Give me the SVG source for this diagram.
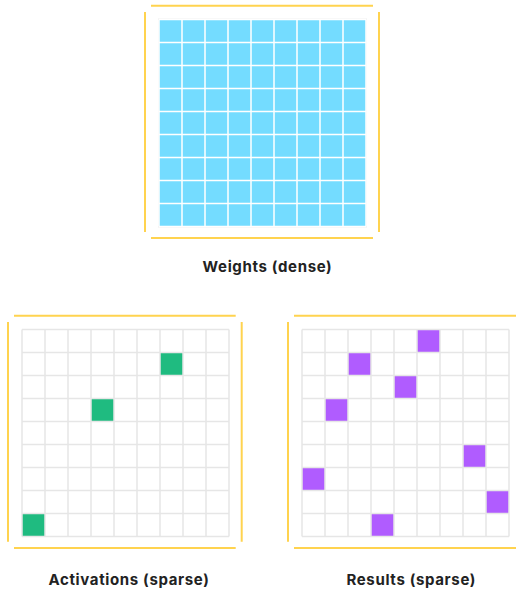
<svg xmlns="http://www.w3.org/2000/svg" width="519" height="593" viewBox="0 0 519 593">
<style>
.frame{stroke:#FFD34F;stroke-width:2;fill:none}
.gridw{stroke:#ffffff;stroke-width:1.5;fill:none}
.gridg{stroke:#e6e6e6;stroke-width:1.5;fill:none}
.lbl{font-family:Inter,"Liberation Sans",sans-serif;font-weight:700;font-size:15px;fill:#222;text-anchor:middle;letter-spacing:0.65px}
.act{fill:#1FBB80}
.res{fill:#B05CFF}
</style>
<rect width="519" height="593" fill="#fff"/>
<g id="weights">
  <path class="frame" d="M151 5.7H373M151 238H373M145 12V232M379 12V232"/>
  <rect x="158.5" y="19" width="208" height="208" fill="none" stroke="#eeeeee" stroke-width="1"/>
  <rect x="159" y="19.5" width="207" height="207" fill="#74DCFF"/>
  <path class="gridw" d="M159 19.5V226.5M182 19.5V226.5M205 19.5V226.5M228 19.5V226.5M251 19.5V226.5M274 19.5V226.5M297 19.5V226.5M320 19.5V226.5M343 19.5V226.5M366 19.5V226.5M159 19.5H366M159 42.5H366M159 65.5H366M159 88.5H366M159 111.5H366M159 134.5H366M159 157.5H366M159 180.5H366M159 203.5H366M159 226.5H366"/>
  <text class="lbl" x="267.5" y="271.7">Weights (dense)</text>
</g>
<g id="activations">
  <path class="frame" d="M14 315.7H235.7M14 548H235.7M8 322V541.7M241.7 322V541.7"/>
  <rect x="22" y="329.5" width="207" height="207" fill="#fff"/>
  <rect class="act" x="160" y="352.5" width="23" height="23"/>
  <rect class="act" x="91" y="398.5" width="23" height="23"/>
  <rect class="act" x="22" y="513.5" width="23" height="23"/>
  <path class="gridg" d="M22 329.5V536.5M45 329.5V536.5M68 329.5V536.5M91 329.5V536.5M114 329.5V536.5M137 329.5V536.5M160 329.5V536.5M183 329.5V536.5M206 329.5V536.5M229 329.5V536.5M22 329.5H229M22 352.5H229M22 375.5H229M22 398.5H229M22 421.5H229M22 444.5H229M22 467.5H229M22 490.5H229M22 513.5H229M22 536.5H229"/>
  <text class="lbl" x="129" y="584.7">Activations (sparse)</text>
</g>
<g id="results">
  <path class="frame" d="M294 315.7H516M294 548H516M288 322V541.7"/>
  <rect x="302" y="329.5" width="207" height="207" fill="#fff"/>
  <rect class="res" x="417" y="329.5" width="23" height="23"/>
  <rect class="res" x="348" y="352.5" width="23" height="23"/>
  <rect class="res" x="394" y="375.5" width="23" height="23"/>
  <rect class="res" x="325" y="398.5" width="23" height="23"/>
  <rect class="res" x="463" y="444.5" width="23" height="23"/>
  <rect class="res" x="302" y="467.5" width="23" height="23"/>
  <rect class="res" x="486" y="490.5" width="23" height="23"/>
  <rect class="res" x="371" y="513.5" width="23" height="23"/>
  <path class="gridg" d="M302 329.5V536.5M325 329.5V536.5M348 329.5V536.5M371 329.5V536.5M394 329.5V536.5M417 329.5V536.5M440 329.5V536.5M463 329.5V536.5M486 329.5V536.5M509 329.5V536.5M302 329.5H509M302 352.5H509M302 375.5H509M302 398.5H509M302 421.5H509M302 444.5H509M302 467.5H509M302 490.5H509M302 513.5H509M302 536.5H509"/>
  <text class="lbl" x="411.3" y="584.7">Results (sparse)</text>
</g>
</svg>
